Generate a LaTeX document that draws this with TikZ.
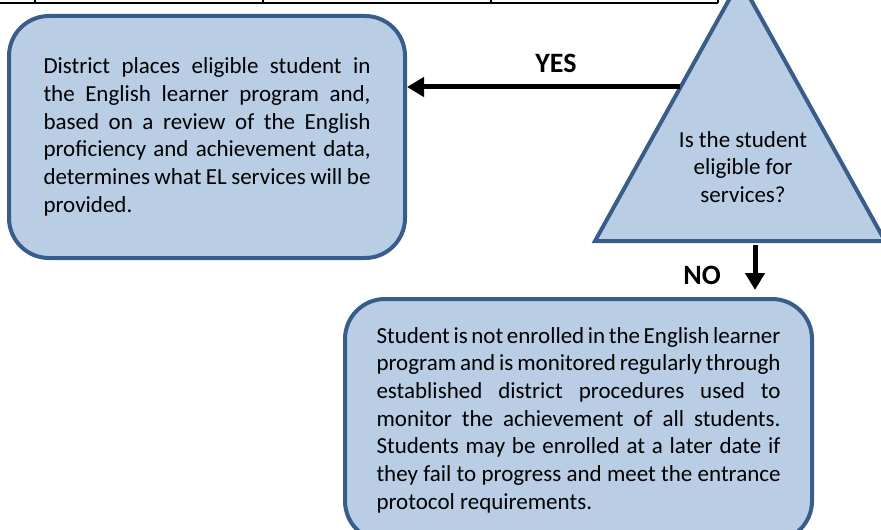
\documentclass[tikz,border=0pt]{standalone}
\usepackage{fontspec}
\setmainfont{Carlito}
\usetikzlibrary{arrows.meta}
\definecolor{boxfill}{HTML}{B9CDE5}
\definecolor{boxline}{HTML}{385D8A}

\begin{document}
\begin{tikzpicture}[x=0.5pt, y=-0.5pt,
    textbox/.style={draw=boxline, fill=boxfill, line width=2pt, rounded corners=20pt, minimum height=121pt, align=justify, font=\fontsize{11.5}{13.85}\selectfont},
    answer/.style={font=\fontsize{14}{16}\selectfont\bfseries},
    flow/.style={line width=2.5pt, -{Triangle[length=8.5pt, width=9.5pt]}}]

    \useasboundingbox (0,0) rectangle (881,529);
    \clip (0,0) rectangle (881,529);

    \draw [line width=1pt] (0,3.5) -- (718,3.5);
    \foreach \x in {35,263,491,718}
        \draw [line width=1pt] (\x,0) -- (\x,3.5);

    \coordinate (apex) at (740,-20);
    \coordinate (baseleft) at (595,241);
    \coordinate (baseright) at (885,241);
    \draw [draw=boxline, fill=boxfill, line width=2pt] (apex) -- (baseleft) -- (baseright) -- cycle;
    \node (eligible) [align=center, font=\fontsize{11.5}{13.85}\selectfont] at (743,167) {Is the student\\ eligible for\\ services?};

    \node (placed) [textbox, minimum width=198pt, text width=163.5pt] at (207,137) {District places eligible student in the English learner program and, based on a review of the English proficiency and achievement data, determines what EL services will be provided.};
    \node (notenrolled) [textbox, minimum width=233.5pt, text width=202pt] at (578.5,420) {Student is not enrolled in the English learner program and is monitored regularly through established district procedures used to monitor the achievement of all students. Students may be enrolled at a later date if they fail to progress and meet the entrance protocol requirements.};

    \coordinate (yesfrom) at (680,87);
    \coordinate (nofrom) at (755,245);
    \draw [flow] (yesfrom) -- (yesfrom -| placed.east);
    \draw [flow, shorten >=3.5pt] (nofrom) -- (nofrom |- notenrolled.north);

    \node (yes) [answer] at (556,63) {YES};
    \node (no) [answer] at (702,275) {NO};
\end{tikzpicture}
\end{document}
